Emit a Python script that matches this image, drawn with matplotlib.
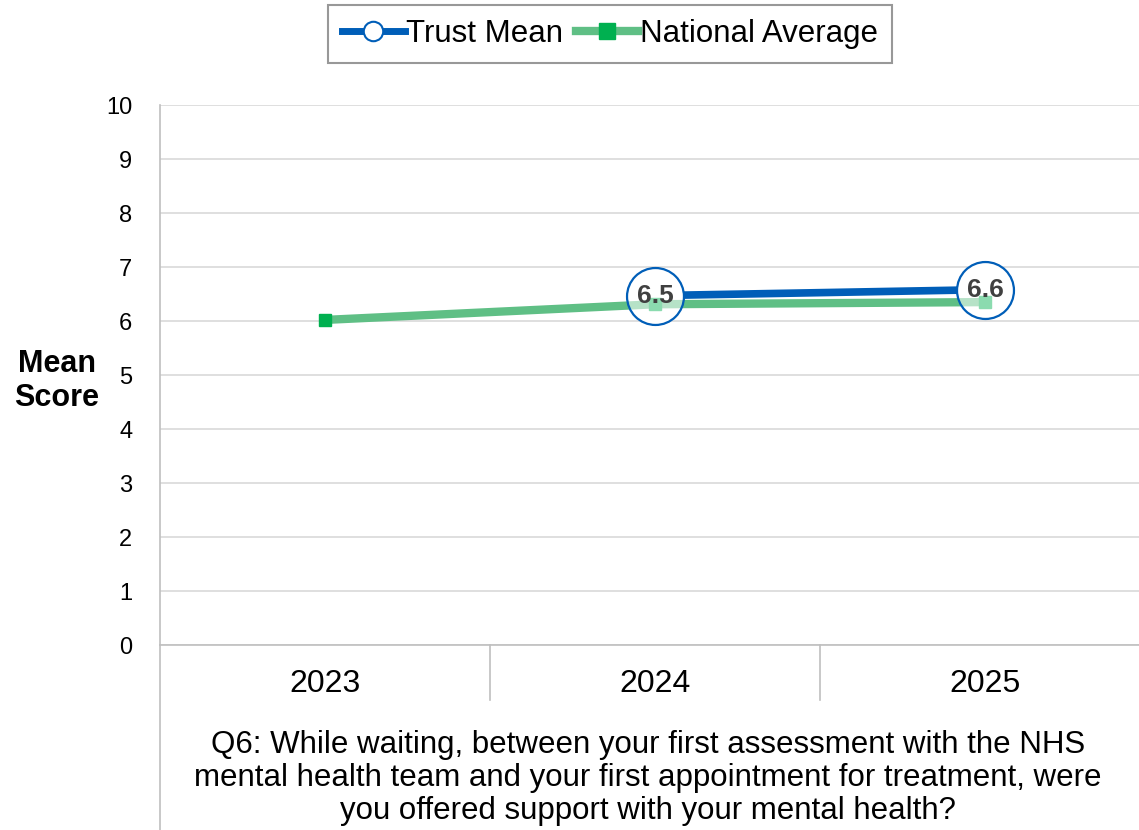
import matplotlib.pyplot as plt
from matplotlib.lines import Line2D
import matplotlib.transforms as mtransforms

plt.rcParams['font.family'] = ['Liberation Sans', 'DejaVu Sans']

years = ["2023", "2024", "2025"]
trust_x = [1, 2]
trust_mean = [6.47, 6.58]
national_avg = [6.02, 6.31, 6.35]
question = ("Q6: While waiting, between your first assessment with the NHS\n"
            "mental health team and your first appointment for treatment, were\n"
            "you offered support with your mental health?")

blue = "#005EB8"
green_line = "#5FBF85"
green_mark = "#00B050"
grid_c = "#D9D9D9"

W, H = 1139, 830
fig = plt.figure(figsize=(W / 100, H / 100), dpi=100)
ax = fig.add_axes([160 / W, (H - 645) / H, 990 / W, 540 / H])

ax.set_xlim(-0.5, 2.5)
ax.set_ylim(0, 10)
ax.set_yticks(range(0, 11))
ax.yaxis.grid(True, color=grid_c, linewidth=1.2)
ax.set_axisbelow(True)
for s in ["top", "right"]:
    ax.spines[s].set_visible(False)
for s in ["left", "bottom"]:
    ax.spines[s].set_color("#BFBFBF")
    ax.spines[s].set_linewidth(1.2)

ax.set_xticks(range(len(years)))
ax.set_xticklabels(years, fontsize=23)
ax.tick_params(axis="x", length=0, pad=17)
ax.tick_params(axis="y", length=0, labelsize=17, pad=20)

# category separators and extended left axis line
trans = mtransforms.blended_transform_factory(ax.transData, ax.transAxes)
for xs in [0.5, 1.5]:
    ax.plot([xs, xs], [0, -55 / 540], color="#BFBFBF", lw=1.2, transform=trans, clip_on=False)
ax.plot([-0.5, -0.5], [0, -190 / 540], color="#BFBFBF", lw=1.2, transform=trans, clip_on=False)

# lines
ax.plot(trust_x, trust_mean, color=blue, lw=5.5, zorder=3, solid_capstyle="butt")
ax.plot(trust_x, trust_mean, ls="none", marker="o", markersize=40,
        markerfacecolor="white", markeredgecolor="none", zorder=3.5)
ax.plot(range(len(years)), national_avg, color=green_line, lw=6, zorder=4)
ax.plot(range(len(years)), national_avg, ls="none", marker="s", markersize=9,
        color=green_mark, zorder=4)
ax.plot(trust_x, trust_mean, ls="none", marker="o", markersize=41,
        markerfacecolor=(1, 1, 1, 0.55), markeredgecolor=blue, markeredgewidth=1.6, zorder=5)
for x, v in zip(trust_x, trust_mean):
    ax.text(x, v, f"{v:.1f}", ha="center", va="center", fontsize=19,
            fontweight="bold", color="#404040", zorder=6)

fig.text(57 / W, 1 - 381 / H, "Mean\nScore", ha="center", va="center",
         fontsize=22, fontweight="bold", linespacing=1.2)
fig.text(648 / W, 1 - 778 / H, question, ha="center", va="center",
         fontsize=22.5, linespacing=1.12)

handles = [
    Line2D([], [], color=blue, lw=5, marker="o", markersize=14,
           markerfacecolor="white", markeredgecolor=blue, markeredgewidth=1.5),
    Line2D([], [], color=green_line, lw=6, marker="s", markersize=11,
           markerfacecolor=green_mark, markeredgecolor=green_mark),
]
leg = fig.legend(handles, ["Trust Mean", "National Average"], loc="upper center",
                 bbox_to_anchor=(610 / W, 1 - 5 / H), ncol=2, fontsize=22.5,
                 frameon=True, fancybox=False, edgecolor="#7F7F7F",
                 handlelength=2.0, handletextpad=0.05, columnspacing=0.4,
                 borderpad=0.45, borderaxespad=0)
leg.get_frame().set_linewidth(1.5)

fig.savefig("out.png", dpi=100)
